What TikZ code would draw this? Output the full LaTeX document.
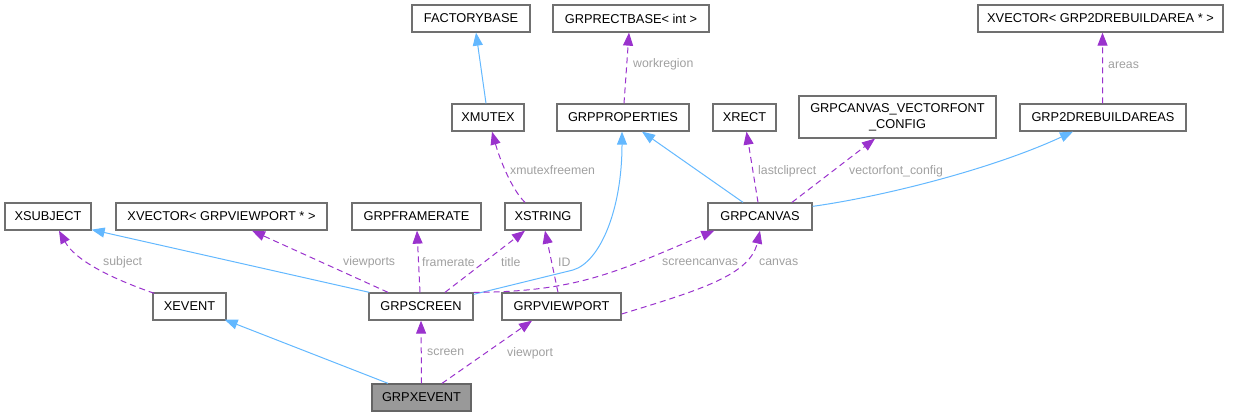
\documentclass[tikz,border=0pt]{standalone}
\usepackage{fontspec}
\setmainfont{Liberation Sans}
\usetikzlibrary{arrows.meta}
\definecolor{inhblue}{HTML}{63B8FF}
\definecolor{usepurple}{HTML}{9A32CD}
\definecolor{boxgray}{HTML}{707070}
\definecolor{lblgray}{HTML}{A0A0A0}
\definecolor{selfill}{HTML}{999999}
\tikzset{
  box/.style={draw=boxgray, line width=1.3pt, fill=white, inner sep=0pt,
    minimum height=27pt, align=center, font=\fontsize{12.8}{16}\selectfont},
  inh/.style={draw=inhblue, line width=1pt, -{Triangle[length=13pt,width=10pt]}},
  use/.style={draw=usepurple, line width=1pt, dash pattern=on 6pt off 4pt,
    -{Triangle[length=13pt,width=10pt]}},
  lbl/.style={text=lblgray, inner sep=0pt, anchor=west, font=\fontsize{12.3}{14}\selectfont},
}
\begin{document}
\begin{tikzpicture}[x=1pt,y=-1pt]
\useasboundingbox (0,0) rectangle (1233,416);
% nodes
\node[box, minimum width=118pt] (factorybase) at (471,18.5) {FACTORYBASE};
\node[box, minimum width=156pt] (grprectbase) at (631,18.5) {GRPRECTBASE< int >};
\node[box, minimum width=245pt] (xvector2) at (1100.5,18.5) {XVECTOR< GRP2DREBUILDAREA * >};
\node[box, minimum width=72pt] (xmutex) at (488,117.5) {XMUTEX};
\node[box, minimum width=132pt] (grpproperties) at (623,117.5) {GRPPROPERTIES};
\node[box, minimum width=63pt] (xrect) at (744.5,117.5) {XRECT};
\node[box, minimum width=197pt, minimum height=42pt] (vfconfig) at (897.5,117) {GRPCANVAS\_VECTORFONT\\\_CONFIG};
\node[box, minimum width=166pt] (grp2drebuildareas) at (1103,117.5) {GRP2DREBUILDAREAS};
\node[box, minimum width=86pt] (xsubject) at (48,216.5) {XSUBJECT};
\node[box, minimum width=211pt] (xvector1) at (221.5,216.5) {XVECTOR< GRPVIEWPORT * >};
\node[box, minimum width=129pt] (grpframerate) at (416.5,216.5) {GRPFRAMERATE};
\node[box, minimum width=76pt] (xstring) at (543,216.5) {XSTRING};
\node[box, minimum width=104pt] (grpcanvas) at (760,216.5) {GRPCANVAS};
\node[box, minimum width=73pt] (xevent) at (189.5,306.5) {XEVENT};
\node[box, minimum width=104pt] (grpscreen) at (421,306.5) {GRPSCREEN};
\node[box, minimum width=119pt] (grpviewport) at (561.5,306.5) {GRPVIEWPORT};
\node[box, minimum width=99pt, fill=selfill, draw=boxgray!90!black] (grpxevent) at (421.5,397.5) {GRPXEVENT};

% inheritance (blue)
\draw[inh] ([xshift=-2pt]xmutex.north) -- ([xshift=5pt]factorybase.south);
\draw[inh] ([xshift=1pt]grpscreen.north west) -- ([yshift=1pt]xsubject.south east);
\draw[inh] ([xshift=-33.5pt]grpxevent.north) -- ([xshift=-2pt,yshift=1pt]xevent.south east);
\draw[inh] ([yshift=-2pt]grpscreen.north east) -- (573,270) .. controls (600,262) and (622,210) .. ([xshift=-1pt]grpproperties.south);
\draw[inh] ([xshift=-17pt]grpcanvas.north) -- ([xshift=19pt]grpproperties.south);
\draw[inh] ([yshift=-4pt]grpcanvas.north east) .. controls (880,197) and (990,170) .. ([xshift=-30pt]grp2drebuildareas.south);

% usage (purple dashed)
\draw[use] ([xshift=1pt]grpproperties.north) -- ([xshift=-2pt]grprectbase.south);
\node[lbl] (lworkregion) at (633,64) {workregion};
\draw[use] ([xshift=-0.3pt]grp2drebuildareas.north) -- ([xshift=2pt]xvector2.south);
\node[lbl] (lareas) at (1108,65) {areas};
\draw[use] ([xshift=-18pt]xstring.north) .. controls (512,190) and (500,160) .. ([xshift=4pt]xmutex.south);
\node[lbl] (lxmutex) at (510,170) {xmutexfreemen};
\draw[use] ([xshift=-2pt]grpcanvas.north) -- ([xshift=2pt]xrect.south);
\node[lbl] (llastclip) at (758,171) {lastcliprect};
\draw[use] ([xshift=32pt]grpcanvas.north) -- ([xshift=-22.5pt]vfconfig.south);
\node[lbl] (lvfc) at (849,171) {vectorfont\_config};
\draw[use] ([xshift=-33pt]grpscreen.north) -- ([xshift=30.5pt]xvector1.south);
\node[lbl] (lviewports) at (343,262) {viewports};
\draw[use] ([xshift=-1pt]grpscreen.north) -- ([xshift=0.5pt]grpframerate.south);
\node[lbl] (lframerate) at (422,262) {framerate};
\draw[use] ([xshift=24pt]grpscreen.north) -- ([xshift=-18pt]xstring.south);
\node[lbl] (ltitle) at (501,262) {title};
\draw[use] ([xshift=-3.5pt]grpviewport.north) -- ([xshift=2pt]xstring.south);
\node[lbl] (lid) at (558,262) {ID};
\draw[use] (grpscreen.north east) .. controls (580,292) and (620,270) .. ([xshift=7pt]grpcanvas.south west);
\node[lbl] (lscreencanvas) at (662,262) {screencanvas};
\draw[use] ([yshift=-7.5pt]grpviewport.east) .. controls (700,290) and (750,275) .. (grpcanvas.south);
\node[lbl] (lcanvas) at (759,262) {canvas};
\draw[use] (grpxevent.north) -- (grpscreen.south);
\node[lbl] (lscreen) at (427,352) {screen};
\draw[use] ([xshift=20.5pt]grpxevent.north) -- ([xshift=-29.5pt]grpviewport.south);
\node[lbl] (lviewport) at (507,353) {viewport};
\draw[use] ([xshift=2pt,yshift=-1pt]xevent.north west) .. controls (110,278) and (75,260) .. ([xshift=11pt]xsubject.south);
\node[lbl] (lsubject) at (103,262) {subject};
\end{tikzpicture}
\end{document}
